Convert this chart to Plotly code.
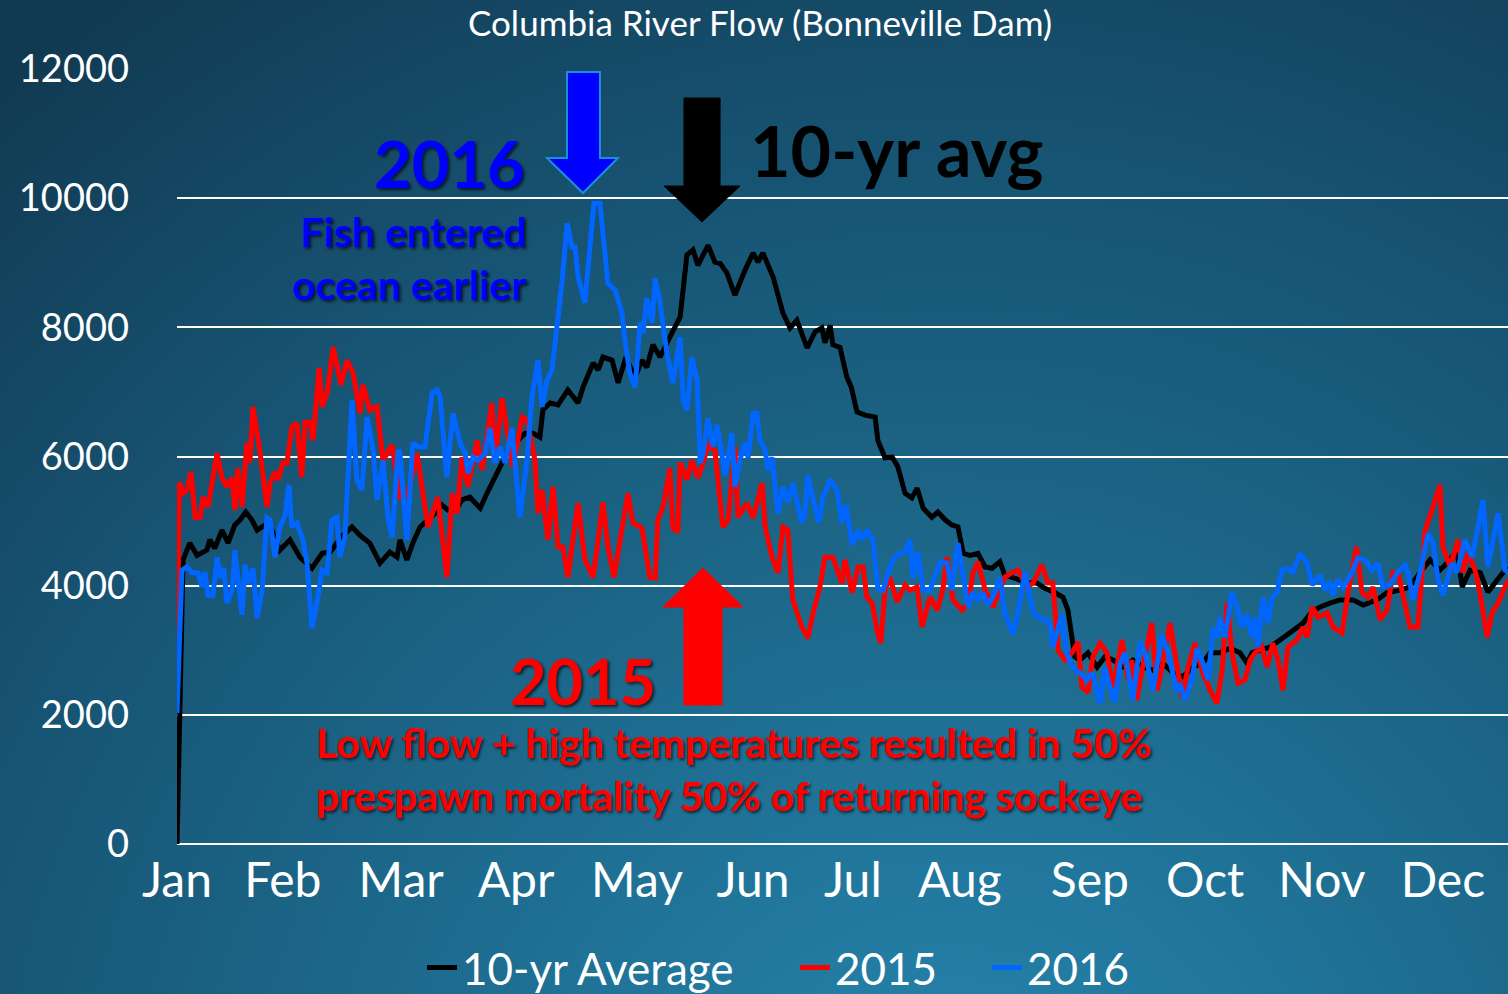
import base64
import plotly.graph_objects as go

# Columbia River flow at Bonneville Dam (day of year -> flow)
AVG_DAY = [0, 1.6, 3.4, 5.3, 7.9, 8.7, 10, 11.9, 13.5, 15.3, 16.7, 18.2, 19.8, 21.2, 23.3, 25.1, 27.2, 29.9,
           32.5, 35.7, 38.4, 40.5, 42.3, 43.9, 46.3, 48.4, 51, 53.7, 56.3, 58.2, 59, 60.8, 62.4, 64.3, 66.4,
           68.3, 70.1, 71.7, 74.1, 75.4, 77.5, 80.2, 82, 83.3, 84.9, 86.2, 88.1, 90.2, 92.1, 94.2, 96, 96.8,
           98.7, 100.8, 103.4, 106.1, 107.4, 110.1, 111.4, 112.7, 115.1, 116.7, 118.5, 119.5, 121.2, 123,
           124.3, 125.9, 127.8, 130.4, 133.1, 134.9, 136.5, 137.8, 140.5, 142.3, 143.7, 145.5, 147.6, 150.3,
           152.4, 153.7, 155, 157.7, 160.3, 162.2, 164, 166.7, 168.8, 170.6, 171.4, 172.8, 173.5, 175.4,
           177.2, 178.4, 179.9, 182, 184.7, 185.4, 187.3, 189.2, 190.7, 192.6, 194.4, 195.8, 197.4, 199.7,
           201.3, 203.2, 205, 206.6, 208, 209.8, 211.9, 213.8, 215.6, 217.7, 219, 220.9, 222.5, 225.1, 227.5,
           229.6, 232.3, 234.4, 235.7, 236.8, 237.5, 238.9, 241, 243.4, 245.5, 247.6, 250.3, 252.9, 255.6,
           258.2, 260.8, 263.5, 266.1, 268.8, 271.4, 273.3, 275.9, 278.6, 281.2, 283.1, 284.4, 286.5, 289.2,
           291.8, 294.4, 297.9, 300.3, 302.4, 305, 307.7, 311.1, 313.8, 317.5, 320.1, 323.5, 326.2, 328.8,
           331.5, 334.1, 336.8, 338.6, 340, 342.1, 344.8, 346.8, 349.2, 351.3, 352.5]
AVG_FLOW = [0, 4400, 4660, 4470, 4550, 4710, 4580, 4860, 4660, 4940, 5020, 5140, 5020, 4860, 4940, 4860, 4550, 4710,
            4440, 4270, 4500, 4520, 4660, 4780, 4910, 4780, 4660, 4350, 4520, 4440, 4710, 4400, 4660, 4910, 5020,
            5120, 5250, 5170, 5200, 5330, 5370, 5200, 5430, 5590, 5790, 5940, 6150, 6250, 6360, 6360, 6300, 6720,
            6830, 6800, 7030, 6830, 7070, 7450, 7340, 7540, 7490, 7140, 7490, 7440, 7230, 7490,
            7380, 7730, 7540, 7850, 8160, 9120, 9200, 8960, 9270, 9010, 8990, 8840, 8500, 8890,
            9150, 9010, 9150, 8780, 8220, 7990, 8110, 7680, 7930, 7990, 7760, 8030, 7730, 7690,
            7230, 7070, 6690, 6640, 6610, 6250, 5980, 5990, 5840, 5430, 5360, 5510, 5200, 5060,
            5140, 5020, 4940, 4910, 4500, 4470, 4500, 4290, 4270, 4370, 4160, 4130, 4090, 4040, 4040,
            3960, 3890, 3820, 3620, 3160, 2900, 2850, 2960, 2740, 2900, 2850, 2740, 2850, 2740,
            2690, 2800, 2650, 2590, 2740, 2800, 2960, 2960, 3030, 2960, 2800, 2960, 3000, 3050,
            3160, 3270, 3420, 3600, 3670, 3730, 3780, 3780, 3700, 3780, 3890, 3930, 3980, 4200,
            4400, 4240, 4400, 4550, 3980, 4240, 4200, 3900, 4090, 4240, 4250]

Y2015_DAY = [0, 0.6, 1.6, 2.6, 3.7, 4.8, 6.1, 6.9, 8.2, 10.6, 11.9, 13.2, 14.6, 15.3, 16.1, 17.2, 18.5, 19.3, 20.1,
             22, 23.8, 24.6, 25.9, 26.7, 28, 29.1, 30.4, 31.7, 33, 33.9, 35.2, 36, 37.6, 38.4, 39.7, 41.3, 43.4,
             45, 46.6, 48.4, 49.2, 51, 52.9, 54.5, 56.9, 59, 61, 63.5, 66.4, 69, 71.4, 72.8, 74.1, 75.4, 77,
             79.4, 80.7, 83.3, 84.1, 86, 87.6, 88.9, 91.3, 92.6, 94.7, 95.5, 96.6, 98.1, 99.5, 100.8, 102.1,
             103.4, 106.1, 107.9, 110.1, 112.7, 114, 115.6, 119.3, 120.6, 123, 125.1, 126.5, 127.2, 128.6,
             130.4, 131.2, 132.5, 133.1, 134.9, 136.2, 137.8, 139.2, 140.5, 142.3, 144.4, 145.8, 147.6, 148.4,
             150.8, 152.4, 154.8, 155.6, 157.4, 159, 160.3, 161.6, 162.9, 165.3, 166.9, 168.3, 170.1, 171.4,
             173.5, 175.9, 176.7, 178.6, 180.2, 181.5, 182.5, 183.9, 185.2, 186.2, 187.3, 188.6, 190.5, 192.6,
             193.9, 195.8, 197.1, 199.2, 201.1, 202.6, 203.7, 205.3, 207.7, 209.3, 210.6, 211.9, 213.8, 215.9,
             219, 220.9, 222.5, 224.9, 226.5, 228.8, 230.4, 231.7, 233.1, 234.9, 236.8, 238.4, 239.4, 241,
             242.3, 244.2, 246, 247.6, 250, 251.6, 252.6, 253.9, 255.3, 257.9, 259.3, 260.6, 262.7, 264.6,
             265.9, 267.5, 269.3, 271.4, 273.3, 275.1, 276.5, 277.8, 279.1, 280.7, 282.5, 283.9, 285.2, 287,
             288.4, 289.9, 291.3, 292.6, 293.9, 296.3, 297.9, 299, 300.3, 301.9, 304.3, 305.8, 308.2, 309.8,
             312, 313.5, 315.1, 316.4, 318.3, 320.1, 321.7, 323, 324.9, 326.2, 328.3, 329.4, 330.2, 332, 334.1,
             334.9, 336.8, 338.9, 340.2, 341.5, 343.4, 344.7, 346.6, 347.9, 349.5, 351.3, 352.5]
Y2015_FLOW = [2800, 5600, 5430, 5480, 5760, 5060, 5060, 5370, 5220, 6050, 5670, 5530, 5670, 5170, 5820, 5220, 6210, 5910, 6770,
              6050, 5220, 5590, 5760, 5640, 5900, 5900, 6460, 6520, 5680, 6530, 6530, 6250, 7370, 6770, 6980, 7690, 7110,
              7490, 7290, 6670, 7110, 6720, 6770, 5940, 6180, 5370, 5400, 6050, 4910, 5370, 4130, 5430, 5120, 5990, 5530,
              6250, 5790, 6830, 5940, 6900, 6300, 5840, 6610, 6560, 5940, 5120, 5480, 4710, 5530, 4600, 4600,
              4130, 5280, 4400, 4130, 5290, 4600, 4130, 5430, 4970, 4890, 4130, 4120, 5020, 5220,
              5820, 4890, 4830, 5910, 5640, 5940, 5670, 5900, 6180, 6100, 4910, 5020, 6150, 5060,
              5280, 5050, 5590, 4910, 4440, 4200, 4910, 4860, 3780, 3360, 3190, 3580, 3980, 4440,
              4440, 4040, 4400, 3890, 4290, 4290, 3820, 3730, 3310, 3110, 3930, 4130, 3750, 4010,
              3930, 3980, 3360, 3820, 3620, 3930, 4440, 3780, 3620, 3730, 4200, 4370, 3930, 3670,
              4130, 4200, 4240, 3980, 4040, 4320, 4040, 4040, 3000, 2850, 2960, 3130, 2430, 2350,
              2900, 3110, 2960, 2430, 3160, 2540, 2850, 2230, 2690, 3420, 2380, 2740, 3420, 2740,
              2280, 2740, 3110, 2650, 2380, 2180, 2690, 3730, 2960, 2490, 2540, 2850, 2960, 3050,
              2740, 3110, 2850, 2380, 3050, 3160, 3360, 3200, 3670, 3510, 3580, 3360, 3270, 3890,
              4600, 3890, 3820, 3980, 3470, 3620, 4200, 4200, 3670, 3360, 3360, 4130, 4860, 5170, 5560,
              4600, 4290, 4710, 4200, 4510, 4240, 3890, 3200, 3580, 3730, 3980, 4100]

Y2016_DAY = [0, 1.3, 2.6, 4, 5.6, 6.6, 7.4, 8.2, 9.5, 10.6, 11.4, 12.4, 13.2, 14.6, 15.3, 17.2, 18, 18.8, 20.1,
             21.2, 22.5, 23.8, 24.6, 25.9, 27.2, 28.6, 29.6, 30.4, 31.7, 33.3, 34.4, 35.7, 37, 38.4, 39.7, 41,
             42.3, 43.1, 44.4, 46.3, 47.6, 48.9, 50.3, 51.9, 52.9, 54.5, 55.8, 56.9, 58.5, 59, 60.8, 62.4, 63.8,
             65.6, 67.5, 68.8, 69.6, 71.4, 73, 74.9, 76.2, 77, 78.3, 79.6, 81.5, 82.8, 84.1, 85.4, 86.8, 88.6,
             90.7, 92.6, 93.9, 95.5, 96.6, 97.9, 99.2, 100.5, 101.9, 103.2, 104.5, 105.3, 106.1, 107.9, 109.3,
             110.3, 111.9, 112.7, 114, 115.9, 117.7, 118.5, 119.8, 121.2, 122.5, 123.3, 124.3, 125.7, 126.5,
             127.8, 129.6, 131.2, 133.1, 133.9, 134.9, 136.2, 137.6, 138.4, 139.2, 140.5, 141.8, 142.9, 144.2,
             145, 146.8, 147.6, 148.9, 150.3, 151.1, 152.4, 153.4, 154.2, 155.6, 156.3, 157.4, 159, 160.3,
             161.6, 162.9, 165.3, 166.1, 166.9, 168.3, 169.8, 170.9, 172.8, 174.6, 175.9, 177, 178.6, 180.2,
             181.2, 182.5, 184.1, 185.4, 186.8, 188.6, 189.9, 191.3, 192.6, 193.9, 194.7, 196, 197.4, 199.2,
             200.5, 201.9, 203.7, 205, 206.6, 208, 209.3, 210.6, 211.9, 213.2, 214.6, 216.4, 217.7, 219, 221.2,
             222.5, 224.3, 225.1, 226.5, 227.8, 229.6, 230.9, 231.7, 234.1, 235.4, 237, 238.9, 240.7, 242.1,
             244.2, 245.5, 246.8, 248.1, 249.5, 250.8, 252.9, 254.8, 256.1, 258.2, 260.6, 262.2, 264.6, 265.3,
             266.7, 268.5, 269.8, 271.4, 272.8, 274.1, 275.1, 275.9, 277.2, 279.1, 280.4, 281.7, 283.1, 284.4,
             285.2, 286, 287.3, 288.6, 289.7, 291, 292.3, 293.9, 295.2, 297.1, 299, 300.3, 302.4, 303.7, 305,
             305.8, 307.1, 308.5, 310.8, 312.4, 314.3, 316.1, 317.7, 319, 320.9, 322.8, 324.9, 325.7, 327,
             328.8, 331, 332.3, 333.6, 334.9, 337.3, 338.6, 340.7, 342.6, 344.2, 345.5, 346.8, 349.5, 351.3,
             352.5]
Y2016_FLOW = [2030, 4240, 4290, 4200, 4200, 3980, 4210, 3850, 3850, 4440, 4120, 4270, 3730, 3930, 4550, 3550, 4320, 4040, 4270,
              3500, 3930, 5050, 5020, 4440, 4910, 5090, 5560, 4910, 4970, 4710, 4350, 3340, 3730, 4240, 4200, 5020,
              5060, 4440, 4750, 6870, 5640, 5480, 6610, 6100, 5330, 5940, 5060, 4750, 6100, 6050, 4710, 6210, 6150,
              6150, 6980, 7030, 6920, 5680, 6670, 6210, 6050, 5740, 5990, 5940, 6050, 6440, 5900, 6150, 5900, 6440,
              5060, 5940, 6920, 7490, 6770, 7180, 7340, 7960, 8730, 9610, 9240, 9240, 8780, 8380, 9300,
              9920, 9920, 9510, 8680, 8580, 8220, 7800, 7290, 7070, 8070, 7910, 8450, 8070, 8760,
              8380, 7600, 7140, 7850, 6870, 6720, 7540, 7180, 5900, 6050, 6590, 6150, 6490, 5940,
              5710, 6360, 5530, 5940, 6220, 5980, 6670, 6670, 6250, 6100, 5790, 5990, 5120, 5530,
              5290, 5590, 4970, 5120, 5710, 5330, 4980, 5370, 5640, 5480, 4970, 5250, 4630, 4860,
              4710, 4860, 4710, 3960, 3930, 4290, 4440, 4500, 4520, 4710, 4120, 4520, 3930, 3930,
              4130, 4370, 4350, 3930, 4660, 4200, 3670, 3900, 3780, 3890, 3700, 3890, 4130, 3580, 3240,
              3580, 4210, 3980, 3580, 3510, 3470, 3420, 3050, 3550, 2960, 2720, 2650, 2540, 2650,
              2180, 2740, 2430, 2200, 2800, 2960, 2230, 3130, 2960, 2380, 3240, 2960, 2350, 2490,
              2230, 2540, 3030, 2800, 2540, 3340, 3200, 3510, 3200, 3900, 3670, 3360, 3550, 3200,
              3510, 3050, 3820, 3420, 3810, 3900, 4240, 4270, 4210, 4500, 4350, 4010, 4160, 3930, 4060,
              3850, 4090, 3980, 4200, 4430, 4400, 4240, 4350, 3980, 4010, 4200, 4320, 4200, 3780,
              4200, 4810, 4660, 4090, 3850, 4350, 4200, 4710, 4440, 4910, 5330, 4290, 5120, 4240,
              4200]

MONTHS = ["Jan", "Feb", "Mar", "Apr", "May", "Jun", "Jul", "Aug", "Sep", "Oct", "Nov", "Dec"]
MONTH_POS = [0, 28, 59.3, 89.7, 121.7, 152.4, 178.8, 207.1, 241.5, 272, 302.9, 334.9]
Y_TICKS = [0, 2000, 4000, 6000, 8000, 10000, 12000]

W, H = 1508, 994
L, T, B = 177, 69, 150
PW, PH = W - L, H - T - B
FONT = "Lato"


def px(x, y):
    # page pixel -> paper coords
    return (x - L) / PW, (H - B - y) / PH


def arrow_path(points):
    pts = [px(x, y) for x, y in points]
    return "M " + " L ".join(f"{a:.4f},{b:.4f}" for a, b in pts) + " Z"


svg = (
    f'<svg xmlns="http://www.w3.org/2000/svg" width="{W}" height="{H}" viewBox="0 0 {W} {H}">'
    '<defs><radialGradient id="g" gradientUnits="userSpaceOnUse" cx="950" cy="1180" r="1450">'
    '<stop offset="0" stop-color="#2787b0"/><stop offset="0.4" stop-color="#1d6a8d"/>'
    '<stop offset="0.7" stop-color="#175473"/><stop offset="1" stop-color="#113a52"/>'
    '</radialGradient></defs>'
    f'<rect width="{W}" height="{H}" fill="url(#g)"/></svg>'
)
bg_src = "data:image/svg+xml;base64," + base64.b64encode(svg.encode()).decode()

fig = go.Figure()
fig.add_trace(go.Scatter(x=AVG_DAY, y=AVG_FLOW, mode="lines", name="10-yr Average", legend="legend",
                         line=dict(color="#000000", width=5)))
fig.add_trace(go.Scatter(x=Y2015_DAY, y=Y2015_FLOW, mode="lines", name="2015", legend="legend2",
                         line=dict(color="#ff0000", width=5)))
fig.add_trace(go.Scatter(x=Y2016_DAY, y=Y2016_FLOW, mode="lines", name="2016", legend="legend3",
                         line=dict(color="#0066ff", width=5)))

# block arrows
x0, y0 = px(0, 0)
shapes = [
    dict(type="path", xref="paper", yref="paper", layer="above",
         path=arrow_path([(567, 72), (600, 72), (600, 158), (618, 158), (583, 193), (547, 158), (567, 158)]),
         fillcolor="#0000ff", line=dict(color="#1e8fd6", width=2)),
    dict(type="path", xref="paper", yref="paper", layer="above",
         path=arrow_path([(684, 98), (720, 98), (720, 186), (740, 186), (702, 222), (664, 186), (684, 186)]),
         fillcolor="#000000", line=dict(color="#000000", width=1)),
    dict(type="path", xref="paper", yref="paper", layer="above",
         path=arrow_path([(703, 568), (743, 607), (722, 607), (722, 705), (684, 705), (684, 607), (663, 607)]),
         fillcolor="#ff0000", line=dict(color="#ff0000", width=1)),
]

shadow = "2px 2px 3px rgba(0,0,0,0.65)"


def note(text, x, y, size, color, xanchor="left", align="left", sh=shadow):
    ax, ay = px(x, y)
    return dict(text=text, x=ax, y=ay, xref="paper", yref="paper", showarrow=False,
                xanchor=xanchor, yanchor="middle", align=align,
                font=dict(family=FONT, size=size, color=color, weight="bold", shadow=sh))


annotations = [
    dict(text="Columbia River Flow (Bonneville Dam)", x=px(760, 22)[0], y=px(760, 22)[1],
         xref="paper", yref="paper", showarrow=False, xanchor="center", yanchor="middle",
         font=dict(family=FONT, size=35, color="white")),
    note("2016", 527, 163, 65, "#0000ff", xanchor="right"),
    note("Fish entered<br>ocean earlier", 529, 258, 41, "#0000ff", xanchor="right", align="right"),
    note("10-yr avg", 748, 150, 70, "#000000", sh="none"),
    note("2015", 508, 680, 63, "#ff0000"),
    note("Low flow + high temperatures resulted in 50%<br>prespawn mortality 50% of returning sockeye",
         314, 769, 41, "#ff0000"),
]


def legend_at(text_left):
    # plotly puts legend text 40px right of the legend's left edge
    return dict(orientation="h", x=px(text_left - 40, 0)[0], xanchor="left", y=px(0, 968)[1],
                yanchor="middle", font=dict(family=FONT, size=44, color="white"),
                bgcolor="rgba(0,0,0,0)")


fig.update_layout(
    width=W, height=H,
    margin=dict(l=L, r=0, t=T, b=B, autoexpand=False),
    paper_bgcolor="#164b66",
    plot_bgcolor="rgba(0,0,0,0)",
    font=dict(family=FONT, color="white"),
    showlegend=True,
    legend=legend_at(462),
    legend2=legend_at(835),
    legend3=legend_at(1027),
    images=[dict(source=bg_src, xref="paper", yref="paper", x=x0, y=y0,
                 sizex=W / PW, sizey=H / PH, sizing="stretch", layer="below")],
    shapes=shapes,
    annotations=annotations,
    xaxis=dict(range=[0, (W - L) / 3.78], tickmode="array", tickvals=MONTH_POS, ticktext=MONTHS,
               showgrid=False, zeroline=False, showline=False, ticks="", ticklabelstandoff=4,
               automargin=False, tickfont=dict(family=FONT, size=48, color="white")),
    yaxis=dict(range=[0, 12000], tickmode="array", tickvals=Y_TICKS, ticktext=[str(v) for v in Y_TICKS],
               showgrid=True, gridcolor="white", gridwidth=2, zeroline=True, zerolinecolor="white",
               zerolinewidth=2, showline=False, ticks="", ticklabelstandoff=47, automargin=False,
               tickfont=dict(family=FONT, size=38, color="white")),
)

fig.write_html("out.html", config={"displayModeBar": False},
               post_script="document.body.style.margin='0';document.documentElement.style.overflow='hidden';")
